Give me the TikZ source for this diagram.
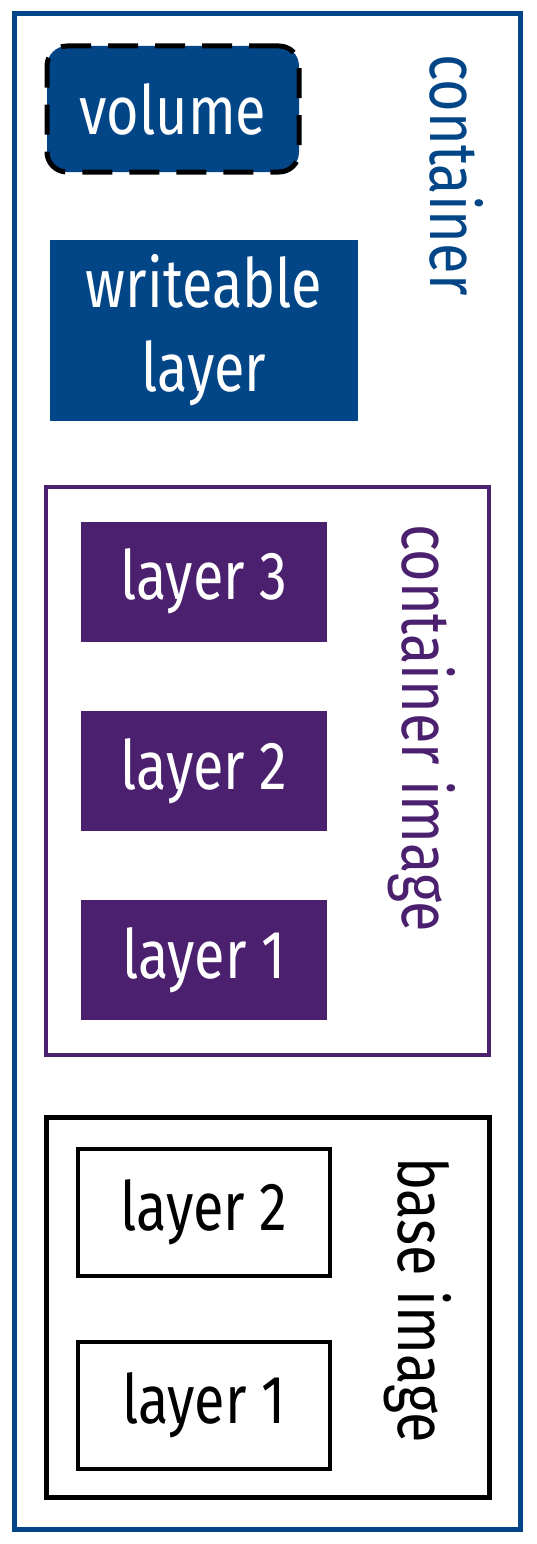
\documentclass[tikz,border=0pt]{standalone}
\usepackage{fontspec}
\setmainfont[FakeStretch=0.82]{Fira Sans}
\usepackage{tikz}
\usetikzlibrary{positioning, calc}

\definecolor{ctblue}{RGB}{2,70,136}
\definecolor{imgpurple}{RGB}{75,32,110}

\begin{document}
\begin{tikzpicture}[x=1pt, y=-1pt, font=\fontsize{68}{84}\selectfont]
        % Define block styles
        \tikzstyle{frame} = [rectangle, draw, inner sep=0pt]
        \tikzstyle{block} = [rectangle, inner sep=0pt, text centered, text=white]
        \tikzstyle{label} = [inner sep=0pt, rotate=-90]

        \useasboundingbox (0,0) rectangle (536,1544);

        % Frames
        \node [frame, draw=ctblue, line width=5pt, minimum width=506pt, minimum height=1515pt] (container) at (267,771.5) {};
        \node [frame, draw=imgpurple, line width=4pt, minimum width=443pt, minimum height=568pt] (image) at (267.5,771) {};
        \node [frame, draw=black, line width=5pt, minimum width=443pt, minimum height=380pt] (base) at (267.5,1307) {};

        % Place nodes
        \node [block, fill=ctblue, draw=black, dashed, dash pattern=on 30pt off 17pt, line width=5pt, rounded corners=20pt, minimum width=252pt, minimum height=126pt] (volume) at (173,109) {volume};
        \node [block, fill=ctblue, align=center, minimum width=308pt, minimum height=181pt] (writeable) at (204,330.5) {writeable\\layer};

        \node [block, fill=imgpurple, minimum width=246pt, minimum height=120pt] (img_layer3) at (204,581.5) {layer 3};
        \node [block, fill=imgpurple, minimum width=246pt, minimum height=120pt, below=69pt of img_layer3] (img_layer2) {layer 2};
        \node [block, fill=imgpurple, minimum width=246pt, minimum height=120pt, below=69pt of img_layer2] (img_layer1) {layer 1};

        \node [block, text=black, draw=black, line width=4pt, minimum width=252pt, minimum height=127pt] (base_layer2) at (204,1212.5) {layer 2};
        \node [block, text=black, draw=black, line width=4pt, minimum width=252pt, minimum height=127pt, below=62pt of base_layer2] (base_layer1) {layer 1};

        % Add titles to the frames
        \node [label, text=ctblue] (container_title) at (457,175) {container};
        \node [label, text=imgpurple] (image_title) at (422,728) {container image};
        \node [label, text=black] (base_title) at (418,1300) {base image};
    \end{tikzpicture}
\end{document}
